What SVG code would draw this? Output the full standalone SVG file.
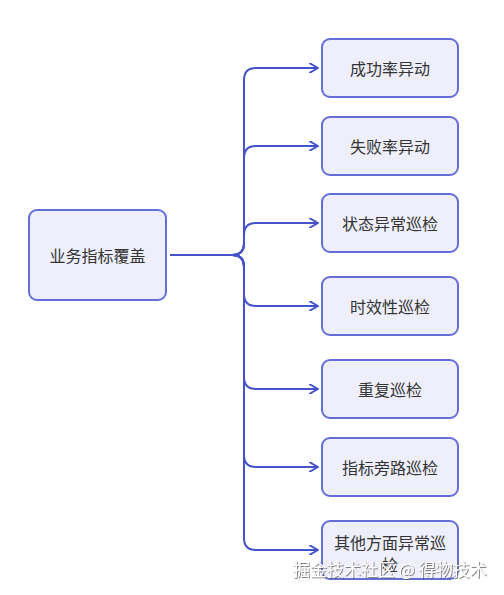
<svg xmlns="http://www.w3.org/2000/svg" width="504" height="595" viewBox="0 0 504 595">
<defs>
<marker id="arr" viewBox="0 0 10 10" refX="9" refY="5" markerWidth="10" markerHeight="10" markerUnits="userSpaceOnUse" orient="auto">
<path d="M1 0.5 L9 5 L1 9.5" fill="none" stroke="#4552c9" stroke-width="2" stroke-linecap="round" stroke-linejoin="round"/>
</marker>
<filter id="sh" x="-10%" y="-30%" width="120%" height="160%">
<feDropShadow dx="0.8" dy="0.8" stdDeviation="0.6" flood-color="#555" flood-opacity="0.9"/>
</filter>
</defs>
<style>
.box{fill:#eeeffb;stroke:#646ed8;stroke-width:2}
.lbl{font-family:"Noto Sans CJK SC","Noto Sans",sans-serif;font-size:16px;fill:#333;text-anchor:middle;dominant-baseline:central}
.edge{fill:none;stroke:#4552c9;stroke-width:2;marker-end:url(#arr)}
.wm{font-family:"Noto Sans CJK SC","Noto Sans",sans-serif;font-size:17px;fill:#fff}
</style>
<rect width="504" height="595" fill="#fff"/>
<g id="connectors">
<path class="edge" d="M170 255 L232 255 Q244 255 244 243 L244 80 Q244 68 256 68 L318 68"/>
<path class="edge" d="M170 255 L232 255 Q244 255 244 243 L244 158 Q244 146 256 146 L318 146"/>
<path class="edge" d="M170 255 L232 255 Q244 255 244 243 L244 235 Q244 223 256 223 L318 223"/>
<path class="edge" d="M170 255 L232 255 Q244 255 244 267 L244 294 Q244 306 256 306 L318 306"/>
<path class="edge" d="M170 255 L232 255 Q244 255 244 267 L244 377 Q244 389 256 389 L318 389"/>
<path class="edge" d="M170 255 L232 255 Q244 255 244 267 L244 455 Q244 467 256 467 L318 467"/>
<path class="edge" d="M170 255 L232 255 Q244 255 244 267 L244 538 Q244 550 256 550 L318 550"/>
</g>
<g id="root"><rect class="box" x="29" y="210" width="137" height="90" rx="8"/><text class="lbl" x="97.5" y="255">业务指标覆盖</text></g>
<g id="n1"><rect class="box" x="322" y="39" width="136" height="58" rx="8"/><text class="lbl" x="390" y="68">成功率异动</text></g>
<g id="n2"><rect class="box" x="322" y="117" width="136" height="58" rx="8"/><text class="lbl" x="390" y="146">失败率异动</text></g>
<g id="n3"><rect class="box" x="322" y="194" width="136" height="58" rx="8"/><text class="lbl" x="390" y="223">状态异常巡检</text></g>
<g id="n4"><rect class="box" x="322" y="277" width="136" height="58" rx="8"/><text class="lbl" x="390" y="306">时效性巡检</text></g>
<g id="n5"><rect class="box" x="322" y="360" width="136" height="58" rx="8"/><text class="lbl" x="390" y="389">重复巡检</text></g>
<g id="n6"><rect class="box" x="322" y="438" width="136" height="58" rx="8"/><text class="lbl" x="390" y="467">指标旁路巡检</text></g>
<g id="n7"><rect class="box" x="322" y="521" width="136" height="58" rx="8"/><text class="lbl" x="390" y="542">其他方面异常巡</text><text class="lbl" x="390" y="564">检</text></g>
<text class="wm" x="293" y="576" filter="url(#sh)">掘金技术社区 @ 得物技术</text>
</svg>
